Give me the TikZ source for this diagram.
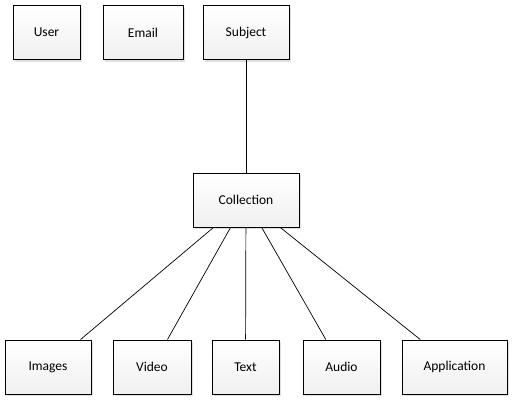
\documentclass[tikz,border=0pt]{standalone}
\usepackage{fontspec}
\setmainfont{Carlito}
\usetikzlibrary{shadows}
\begin{document}
\begin{tikzpicture}[x=1pt,y=-1pt,
  box/.style={draw=black, line width=0.9pt, top color=white, bottom color=gray!12,
    minimum height=54pt, inner sep=0pt, font=\fontsize{13.5}{15}\selectfont,
    drop shadow={shadow xshift=2pt, shadow yshift=-2pt, opacity=0.25, fill=gray}},
  link/.style={draw=black, line width=0.7pt}]
\useasboundingbox (0,0) rectangle (523,400);
\node[box, minimum width=67pt] (user) at (46.5,32.5) {User};
\node[box, minimum width=80pt] (email) at (143,32.5) {Email};
\node[box, minimum width=86pt] (subject) at (246,32.5) {Subject};
\node[box, minimum width=106pt] (collection) at (246,200) {Collection};
\node[box, minimum width=86pt] (images) at (48,367) {Images};
\node[box, minimum width=78pt] (video) at (152,367) {Video};
\node[box, minimum width=67pt] (text) at (245.5,367) {Text};
\node[box, minimum width=77pt] (audio) at (341.5,367) {Audio};
\node[box, minimum width=105pt] (application) at (454.5,367) {Application};
\draw[link] (subject) -- (collection);
\foreach \n in {images,video,text,audio,application}
  \draw[link] (collection) -- (\n);
\end{tikzpicture}
\end{document}
